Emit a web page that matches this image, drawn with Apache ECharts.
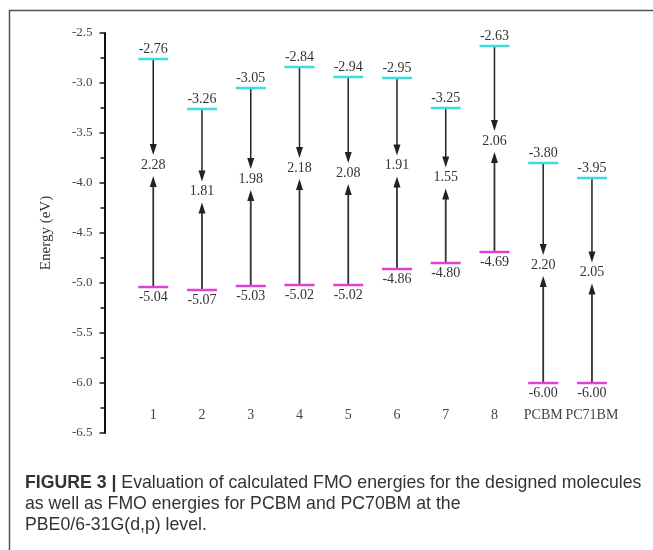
<!DOCTYPE html>
<html>
<head>
<meta charset="utf-8">
<script src="https://cdn.jsdelivr.net/npm/echarts@6/dist/echarts.min.js"></script>
<style>html,body{margin:0;padding:0;background:#fff}#c{width:653px;height:550px}</style>
</head>
<body>
<div id="c"></div>
<script>
var categories = ['1', '2', '3', '4', '5', '6', '7', '8', 'PCBM', 'PC71BM'];
var lumo = [-2.76, -3.26, -3.05, -2.84, -2.94, -2.95, -3.25, -2.63, -3.80, -3.95];
var homo = [-5.04, -5.07, -5.03, -5.02, -5.02, -4.86, -4.80, -4.69, -6.00, -6.00];
var gaps = [2.28, 1.81, 1.98, 2.18, 2.08, 1.91, 1.55, 2.06, 2.20, 2.05];
var yTicks = [-6.5, -6.0, -5.5, -5.0, -4.5, -4.0, -3.5, -3.0, -2.5];

var SERIF = '"Liberation Serif", "DejaVu Serif", serif';
var SANS = '"Liberation Sans", Arial, sans-serif';
var data = categories.map(function (c, i) { return [i, lumo[i], homo[i], gaps[i]]; });

var chart = echarts.init(document.getElementById('c'), null, { renderer: 'canvas' });

function arrowHead(x, tipY, dir) {
  var len = 11, hw = 3.5;
  return {
    type: 'polygon',
    shape: { points: [[x, tipY], [x - hw, tipY - dir * len], [x + hw, tipY - dir * len]] },
    style: { fill: '#222' }
  };
}

var option = {
  backgroundColor: '#fff',
  animation: false,
  grid: { left: 104.5, right: 12.3, top: 33, bottom: 117, containLabel: false },
  xAxis: {
    type: 'value', min: -1, max: 10, interval: 1,
    offset: -25,
    axisLine: { show: false }, axisTick: { show: false }, splitLine: { show: false },
    axisLabel: {
      margin: 0, verticalAlign: 'top',
      fontFamily: SERIF, fontSize: 14, color: '#444',
      formatter: function (v) { return categories[v] !== undefined ? categories[v] : ''; }
    }
  },
  yAxis: {
    type: 'value', min: yTicks[0], max: yTicks[yTicks.length - 1], interval: 0.5,
    name: 'Energy (eV)', nameLocation: 'middle', nameRotate: 90, nameGap: 51,
    nameTextStyle: { fontFamily: SERIF, fontSize: 15, color: '#333' },
    axisLine: { show: true, onZero: false, lineStyle: { color: '#111', width: 2 } },
    axisTick: { show: true, inside: false, length: 5, lineStyle: { color: '#111', width: 1.5 } },
    minorTick: { show: true, splitNumber: 2, length: 4, lineStyle: { color: '#111', width: 1.5 } },
    splitLine: { show: false },
    axisLabel: {
      margin: 12, fontFamily: SERIF, fontSize: 13, color: '#444',
      formatter: function (v) { return v.toFixed(1); }
    }
  },
  series: [{
    type: 'custom',
    data: data,
    clip: false,
    renderItem: function (params, api) {
      var i = api.value(0), lu = api.value(1), ho = api.value(2), gp = api.value(3);
      var pL = api.coord([i, lu]);
      var pH = api.coord([i, ho]);
      var pM = api.coord([i, (lu + ho) / 2]);
      var x = pL[0];
      var ly = pM[1] - 8;
      var hw = 15;
      var downTip = ly - 10, upTip = ly + 11;
      return {
        type: 'group',
        children: [
          { type: 'line', shape: { x1: x, y1: pL[1], x2: x, y2: downTip - 9 }, style: { stroke: '#222', lineWidth: 1.5 } },
          arrowHead(x, downTip, 1),
          { type: 'line', shape: { x1: x, y1: pH[1], x2: x, y2: upTip + 9 }, style: { stroke: '#333', lineWidth: 1.8 } },
          arrowHead(x, upTip, -1),
          { type: 'line', shape: { x1: x - hw, y1: pL[1], x2: x + hw, y2: pL[1] }, style: { stroke: '#3ddcdc', lineWidth: 2.5 } },
          { type: 'line', shape: { x1: x - hw, y1: pH[1], x2: x + hw, y2: pH[1] }, style: { stroke: '#e040d8', lineWidth: 2.5 } },
          { type: 'text', style: { text: lu.toFixed(2), x: x, y: pL[1] - 3, align: 'center', verticalAlign: 'bottom', font: '14px ' + SERIF, fill: '#333' } },
          { type: 'text', style: { text: ho.toFixed(2), x: x, y: pH[1] + 3, align: 'center', verticalAlign: 'top', font: '14px ' + SERIF, fill: '#333' } },
          { type: 'text', style: { text: gp.toFixed(2), x: x, y: ly, align: 'center', verticalAlign: 'middle', font: '14px ' + SERIF, fill: '#333' } }
        ]
      };
    }
  }],
  graphic: [
    { type: 'polyline', shape: { points: [[9.5, 550], [9.5, 10.5], [653, 10.5]] }, style: { stroke: '#555', lineWidth: 1.5, fill: null } },
    {
      type: 'text', left: 25, top: 473,
      style: {
        text: '{b|FIGURE 3 |} Evaluation of calculated FMO energies for the designed molecules\nas well as FMO energies for PCBM and PC70BM at the\nPBE0/6-31G(d,p) level.',
        font: '17.7px ' + SANS, fill: '#333', lineHeight: 21,
        rich: { b: { fontWeight: 'bold', fontSize: 17.7, fontFamily: SANS, fill: '#333', lineHeight: 21 } }
      }
    }
  ]
};
chart.setOption(option);
</script>
</body>
</html>
